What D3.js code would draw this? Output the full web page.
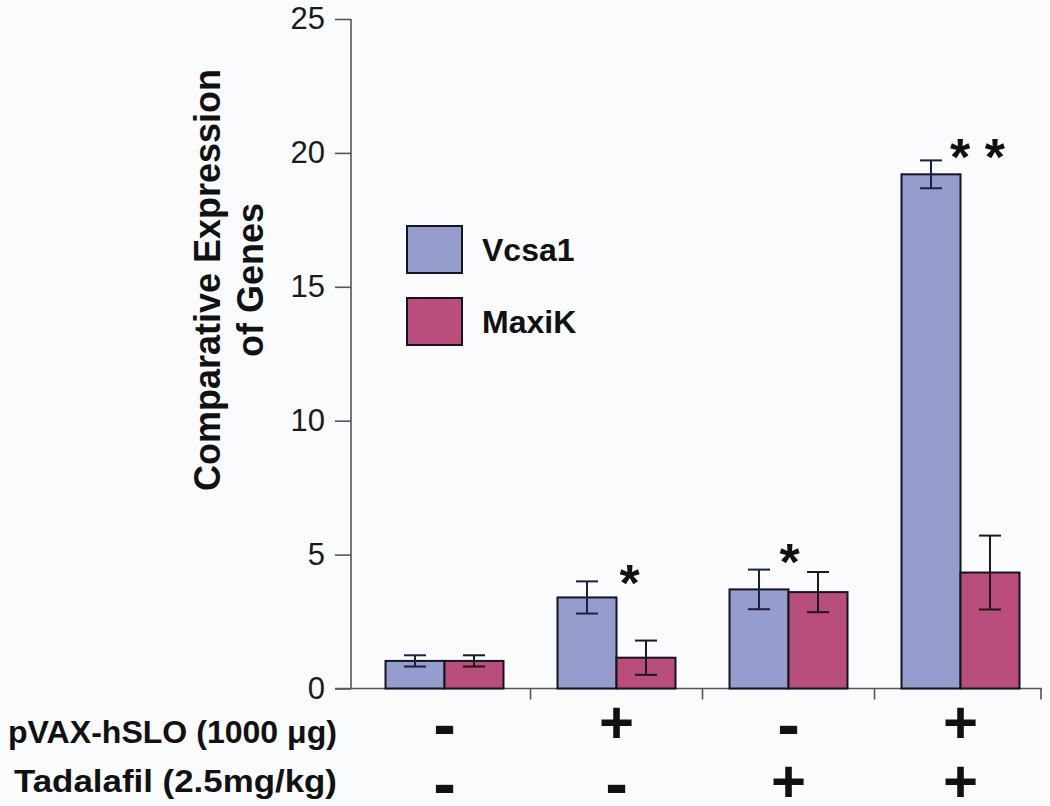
<!DOCTYPE html>
<html>
<head>
<meta charset="utf-8">
<script src="https://cdn.jsdelivr.net/npm/d3@7"></script>
<style>
  html, body { margin: 0; padding: 0; background: #f9fbfd; }
  svg { display: block; }
  text { font-family: "Liberation Sans", Arial, sans-serif; }
</style>
</head>
<body>
<svg id="chart" width="1050" height="806"></svg>
<script>
// ---- data ----
const groups = ["ctrl", "pVAX", "Tadalafil", "pVAX+Tadalafil"];
const seriesNames = ["Vcsa1", "MaxiK"];
const vcsa1 = [1.03, 3.4, 3.7, 19.2];
const vcsa1Err = [0.21, 0.6, 0.74, 0.52];
const maxik = [1.03, 1.15, 3.6, 4.33];
const maxikErr = [0.21, 0.64, 0.75, 1.38];
const pvaxSigns = ["-", "+", "-", "+"];
const tadalafilSigns = ["-", "-", "+", "+"];
const rowLabels = ["pVAX-hSLO (1000 \u03bcg)", "Tadalafil (2.5mg/kg)"];
const yTicks = [0, 5, 10, 15, 20, 25];
const stars = ["", "*", "*", "* *"];
const yTitle = ["Comparative Expression", "of Genes"];

const colors = { Vcsa1: "#959dcc", MaxiK: "#b94d7b" };

const svg = d3.select("#chart");
svg.append("rect").attr("width", 1050).attr("height", 806).attr("fill", "#f9fbfd");

const y = d3.scaleLinear().domain([0, 25]).range([688.5, 19]);
const x = d3.scaleBand().domain(groups).range([358.5, 1046.5]).paddingInner(0.314).paddingOuter(0.157);
const xs = d3.scaleBand().domain(seriesNames).range([0, x.bandwidth()]);

const axisColor = "#555";

// y axis
const yAxis = svg.append("g").attr("transform", "translate(351,0)")
  .call(d3.axisLeft(y).tickValues(yTicks).tickSize(16).tickPadding(10));
yAxis.select(".domain").attr("stroke", axisColor).attr("stroke-width", 1.6).attr("d", `M0,${y(25)}V${y(0)}`);
yAxis.selectAll(".tick line").attr("stroke", axisColor).attr("stroke-width", 1.6);
yAxis.selectAll(".tick text").attr("font-size", 31).attr("fill", "#1a1a1a")
  .attr("font-family", "Liberation Sans, Arial, sans-serif");

// x axis baseline
svg.append("line").attr("x1", 335).attr("x2", 1042).attr("y1", y(0)).attr("y2", y(0))
  .attr("stroke", axisColor).attr("stroke-width", 1.6);
// category ticks at band boundaries
const bounds = groups.map(g => x(g) + x.bandwidth() + x.step() * x.paddingInner() / 2);
svg.selectAll("line.xt").data(bounds).join("line").attr("class", "xt")
  .attr("x1", d => Math.min(d, 1041)).attr("x2", d => Math.min(d, 1041)).attr("y1", y(0)).attr("y2", y(0) + 11)
  .attr("stroke", axisColor).attr("stroke-width", 1.6);

// bars
const barData = [];
groups.forEach((g, i) => {
  barData.push({ g, s: "Vcsa1", v: vcsa1[i], e: vcsa1Err[i] });
  barData.push({ g, s: "MaxiK", v: maxik[i], e: maxikErr[i] });
});
svg.selectAll("rect.bar").data(barData).join("rect").attr("class", "bar")
  .attr("x", d => x(d.g) + xs(d.s)).attr("width", xs.bandwidth())
  .attr("y", d => y(d.v)).attr("height", d => y(0) - y(d.v))
  .attr("fill", d => colors[d.s]).attr("stroke", "#15151f").attr("stroke-width", 2);

// error bars
const cap = 11;
const eb = svg.selectAll("g.err").data(barData).join("g").attr("class", "err")
  .attr("stroke", d => d.s === "Vcsa1" ? "#1a1f45" : "#1a1a1a").attr("stroke-width", 2);
const cx = d => x(d.g) + xs(d.s) + xs.bandwidth() / 2;
eb.append("line").attr("x1", cx).attr("x2", cx)
  .attr("y1", d => y(d.v + d.e)).attr("y2", d => y(d.v - d.e));
eb.append("line").attr("x1", d => cx(d) - cap).attr("x2", d => cx(d) + cap)
  .attr("y1", d => y(d.v + d.e)).attr("y2", d => y(d.v + d.e));
eb.append("line").attr("x1", d => cx(d) - cap).attr("x2", d => cx(d) + cap)
  .attr("y1", d => y(d.v - d.e)).attr("y2", d => y(d.v - d.e));

// significance stars
const starDx = [0, 13, 1, 17];
const starDy = [0, -7, -17, -12];
svg.selectAll("text.star").data(groups).join("text").attr("class", "star")
  .attr("x", (g, i) => x(g) + xs.bandwidth() + starDx[i])
  .attr("y", (g, i) => y(vcsa1[i] + vcsa1Err[i]) + starDy[i] + 27)
  .attr("text-anchor", "middle").attr("font-size", 52).attr("font-weight", "bold")
  .attr("fill", "#111").text((g, i) => stars[i]);

// legend
const legend = svg.append("g");
seriesNames.forEach((s, i) => {
  legend.append("rect").attr("x", 407).attr("y", 226 + i * 72).attr("width", 55).attr("height", 47)
    .attr("fill", colors[s]).attr("stroke", "#15151f").attr("stroke-width", 2);
  legend.append("text").attr("x", 482).attr("y", 261 + i * 72).attr("font-size", 32)
    .attr("font-weight", "bold").attr("fill", "#111").text(s);
});

// y title
const yt = svg.append("text").attr("transform", "translate(220,280) rotate(-90)")
  .attr("text-anchor", "middle").attr("font-size", 36).attr("font-weight", "bold").attr("fill", "#111");
yt.append("tspan").attr("x", 0).attr("y", 0).text(yTitle[0]);
yt.append("tspan").attr("x", 0).attr("y", 43).text(yTitle[1]);

// bottom condition rows
const rowY = [743, 792];
const rowLen = [329, 323];
rowLabels.forEach((l, r) => {
  svg.append("text").attr("x", 337 - rowLen[r]).attr("y", rowY[r])
    .attr("textLength", rowLen[r]).attr("lengthAdjust", "spacingAndGlyphs")
    .attr("font-size", 31).attr("font-weight", "bold").attr("fill", "#111").text(l);
});
const signCenter = [722, 781];
[pvaxSigns, tadalafilSigns].forEach((signs, r) => {
  svg.selectAll("text.sign" + r).data(groups).join("text").attr("class", "sign" + r)
    .attr("x", g => x(g) + x.bandwidth() / 2)
    .attr("y", (g, i) => signs[i] === "+" ? signCenter[r] + 21 : signCenter[r] + 7 + 19)
    .attr("text-anchor", "middle").attr("font-size", (g, i) => signs[i] === "+" ? 60 : 68)
    .attr("font-weight", "bold").attr("fill", "#111")
    .text((g, i) => signs[i]);
});
</script>
</body>
</html>
